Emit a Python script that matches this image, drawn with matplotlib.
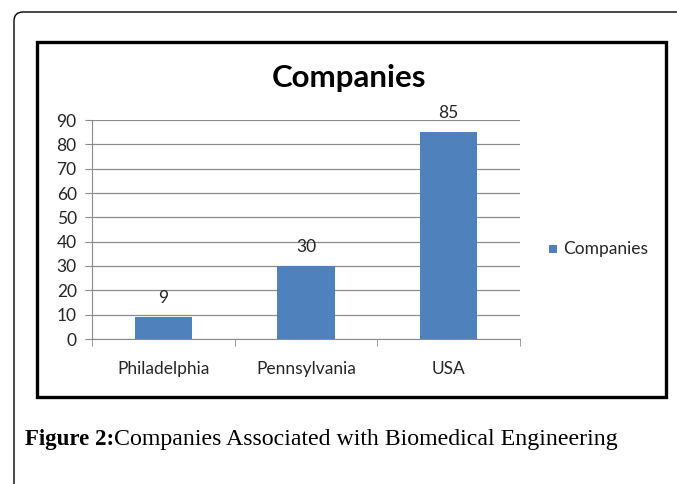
import matplotlib
matplotlib.use("Agg")
import matplotlib.pyplot as plt
from matplotlib.patches import Rectangle, FancyBboxPatch
from matplotlib.transforms import IdentityTransform
import numpy as np

categories = ["Philadelphia", "Pennsylvania", "USA"]
values = [9, 30, 85]
series_name = "Companies"
yticks = [0, 10, 20, 30, 40, 50, 60, 70, 80, 90]

W, H = 677, 484
fig = plt.figure(figsize=(W / 100, H / 100), dpi=100)
sans = ["Lato", "DejaVu Sans"]
fs = 12.5
tc = "#262626"

def px(x0, y0, x1, y1):
    # pixel box (top-left origin) -> figure fraction rect
    return [x0 / W, 1 - y1 / H, (x1 - x0) / W, (y1 - y0) / H]

# outer rounded border
outer = FancyBboxPatch((14, -60), 800, H - 12 + 60, boxstyle="round,pad=0,rounding_size=9",
                       transform=IdentityTransform(), fill=False, ec="black", lw=1.0)
fig.patches.append(outer)

# inner chart frame
inner = Rectangle((37, H - 397), 629, 355, transform=IdentityTransform(),
                  fill=False, ec="black", lw=2.4)
fig.patches.append(inner)

ax = fig.add_axes(px(92, 120, 520, 339))
x = np.arange(len(categories))
color = "#4F81BD"
bars = ax.bar(x, values, width=0.4, color=color, label=series_name, zorder=3)
ax.set_xlim(-0.5, len(categories) - 0.5)
ax.set_ylim(0, 90)
ax.set_yticks(yticks)
ax.yaxis.grid(True, color="#8c8c8c", lw=0.9, zorder=0)
for s in ["top", "right"]:
    ax.spines[s].set_visible(False)
ax.spines["left"].set_color("#8c8c8c")
ax.spines["bottom"].set_color("#8c8c8c")
ax.tick_params(axis="y", length=5, color="#8c8c8c", labelsize=fs, labelcolor=tc, pad=6)
ax.set_xticks(x)
ax.set_xticklabels(categories, fontfamily=sans)
ax.tick_params(axis="x", length=0, labelsize=fs, labelcolor=tc, pad=16)
ax.set_xticks(np.arange(-0.5, len(categories), 1.0), minor=True)
ax.tick_params(axis="x", which="minor", length=5, color="#8c8c8c")
for lab in ax.get_yticklabels():
    lab.set_fontfamily(sans)

for xi, v in zip(x, values):
    ax.annotate(str(v), (xi, v), xytext=(0, 14), textcoords="offset points",
                ha="center", va="center", fontsize=fs, color=tc, fontfamily=sans)

fig.text(349 / W, 1 - 78 / H, "Companies", ha="center", va="center",
         fontsize=22.5, fontweight="bold", fontfamily=sans)

# legend
fig.patches.append(Rectangle((549, H - 253), 8, 8, transform=IdentityTransform(),
                             fc=color, ec="none"))
fig.text(563 / W, 1 - 249 / H, series_name, ha="left", va="center",
         fontsize=fs, color=tc, fontfamily=sans)

# caption
cap_y = 1 - 439 / H
t1 = fig.text(25 / W, cap_y, "Figure 2:", ha="left", va="center", fontsize=16.5,
              fontweight="bold", fontfamily="Liberation Serif")
fig.canvas.draw()
bb = t1.get_window_extent(fig.canvas.get_renderer())
fig.text(bb.x1 / W, cap_y, "Companies Associated with Biomedical Engineering",
         ha="left", va="center", fontsize=17.2, fontfamily="Liberation Serif")

fig.savefig("out.png", dpi=100)
